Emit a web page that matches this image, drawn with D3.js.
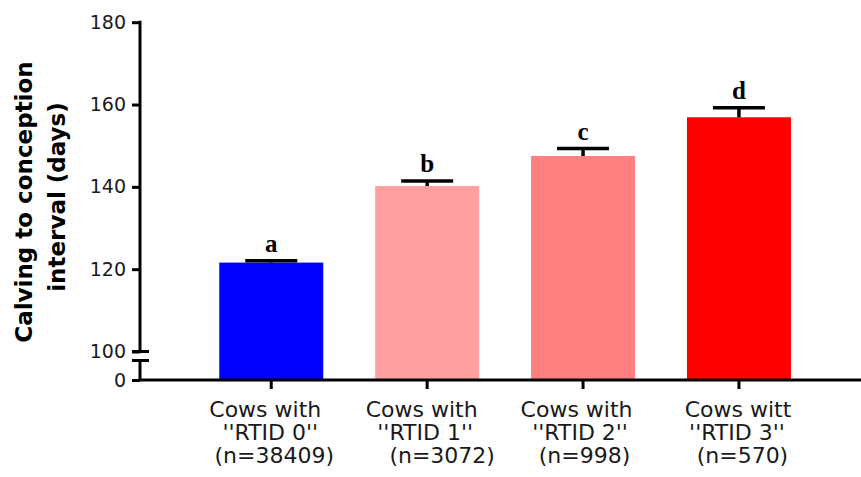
<!DOCTYPE html>
<html>
<head>
<meta charset="utf-8">
<script src="https://cdn.jsdelivr.net/npm/d3@7"></script>
<style>
  html, body { margin: 0; padding: 0; background: #fff; }
  svg { display: block; }
</style>
</head>
<body>
<svg id="chart" width="861" height="477"></svg>
<script>
// Groups, means, SEM and significance letters
const categories = ["RTID 0", "RTID 1", "RTID 2", "RTID 3"];
const labelLines = [
  ["Cows with", "''RTID 0''", "(n=38409)"],
  ["Cows with", "''RTID 1''", "(n=3072)"],
  ["Cows with", "''RTID 2''", "(n=998)"],
  ["Cows witt", "''RTID 3''", "(n=570)"]
];
const means = [121.6, 140.2, 147.5, 156.9];
const sem = [0.45, 1.2, 1.8, 2.3];
const letters = ["a", "b", "c", "d"];
const upperTicks = [100, 120, 140, 160, 180];
const lowerTicks = [0];
const barColors = ["#0000ff", "#ffa0a0", "#ff8080", "#ff0000"];

// Layout
const axisX = 140;
const axisRight = 861;
const ink = "#1a1a1a";
// horizontal nudges for each line of the category labels
const lineNudge = [
  [-6, -1, 3],
  [-5.5, -2, 15],
  [-6.5, -3, 1.5],
  [-1, -2, 3.5]
];

const svg = d3.select("#chart");

// broken y axis: upper segment 100-180, lower segment holding 0
const yHigh = d3.scaleLinear().domain([100, 180]).range([351.5, 22.2]);
const yLow = d3.scaleLinear().domain([0, 100]).range([380, 360.5]);

const x = d3.scaleBand()
  .domain(categories)
  .range([193.3, 816.9])
  .paddingInner(0.333)
  .paddingOuter(0.1665);

const data = categories.map((c, i) => ({
  cat: c, mean: means[i], sem: sem[i], letter: letters[i],
  color: barColors[i], lines: labelLines[i], nudge: lineNudge[i]
}));
const cx = d => x(d.cat) + x.bandwidth() / 2;

// bars
svg.append("g").selectAll("rect")
  .data(data)
  .join("rect")
  .attr("x", d => x(d.cat))
  .attr("width", x.bandwidth())
  .attr("y", d => yHigh(d.mean))
  .attr("height", d => yLow(0) - yHigh(d.mean))
  .attr("fill", d => d.color);

// error bars (upper only)
const eb = svg.append("g").attr("stroke", "#000").attr("stroke-width", 3.5);
eb.selectAll("line.stem")
  .data(data)
  .join("line")
  .attr("class", "stem")
  .attr("x1", cx).attr("x2", cx)
  .attr("y1", d => yHigh(d.mean))
  .attr("y2", d => yHigh(d.mean + d.sem));
eb.selectAll("line.cap")
  .data(data)
  .join("line")
  .attr("class", "cap")
  .attr("x1", d => cx(d) - 26)
  .attr("x2", d => cx(d) + 26)
  .attr("y1", d => yHigh(d.mean + d.sem))
  .attr("y2", d => yHigh(d.mean + d.sem));

// significance letters
svg.append("g").selectAll("text")
  .data(data)
  .join("text")
  .attr("x", cx)
  .attr("y", d => yHigh(d.mean + d.sem) - 9)
  .attr("text-anchor", "middle")
  .attr("font-family", "'Liberation Serif', serif")
  .attr("font-weight", "bold")
  .attr("font-size", 25)
  .attr("fill", "#000")
  .text(d => d.letter);

// y axis: tick marks and labels
function styleAxis(g) {
  g.select(".domain").remove();
  g.selectAll(".tick line").attr("stroke", "#000").attr("stroke-width", 3);
  g.selectAll(".tick text")
    .attr("font-family", "'DejaVu Sans', sans-serif")
    .attr("font-size", 19)
    .attr("fill", ink);
}
svg.append("g")
  .attr("transform", `translate(${axisX},0)`)
  .call(d3.axisLeft(yHigh).tickValues(upperTicks).tickSize(8).tickPadding(6))
  .call(styleAxis);
svg.append("g")
  .attr("transform", `translate(${axisX},0)`)
  .call(d3.axisLeft(yLow).tickValues(lowerTicks).tickSize(8).tickPadding(6))
  .call(styleAxis);

// y axis spine with break
const spine = svg.append("g").attr("stroke", "#000").attr("stroke-width", 3).attr("fill", "none");
spine.append("line")
  .attr("x1", axisX).attr("x2", axisX)
  .attr("y1", yHigh(180) - 1.5).attr("y2", yHigh(100));
spine.append("line")
  .attr("x1", axisX).attr("x2", axisX)
  .attr("y1", yLow(100)).attr("y2", yLow(0));
// break marks
[yHigh(100), yLow(100)].forEach(yy => {
  spine.append("line")
    .attr("x1", axisX - 8).attr("x2", axisX + 9)
    .attr("y1", yy).attr("y2", yy);
});

// x axis
svg.append("line")
  .attr("x1", axisX - 1.5).attr("x2", axisRight)
  .attr("y1", yLow(0)).attr("y2", yLow(0))
  .attr("stroke", "#000").attr("stroke-width", 3);
svg.append("g").selectAll("line")
  .data(data)
  .join("line")
  .attr("x1", cx).attr("x2", cx)
  .attr("y1", yLow(0))
  .attr("y2", yLow(0) + 9)
  .attr("stroke", "#000").attr("stroke-width", 3);

// category labels
const lab = svg.append("g")
  .attr("font-family", "'DejaVu Sans', sans-serif")
  .attr("font-size", 22)
  .attr("fill", ink)
  .attr("text-anchor", "middle");
data.forEach(d => {
  d.lines.forEach((t, j) => {
    lab.append("text")
      .attr("x", cx(d) + d.nudge[j])
      .attr("y", 416.7 + j * 23.3)
      .text(t);
  });
});

// y axis title
const title = svg.append("g")
  .attr("font-family", "'DejaVu Sans', sans-serif")
  .attr("font-weight", "bold")
  .attr("font-size", 23)
  .attr("fill", "#000")
  .attr("text-anchor", "middle");
title.append("text")
  .attr("transform", "translate(32,202) rotate(-90)")
  .text("Calving to conception");
title.append("text")
  .attr("transform", "translate(65,197) rotate(-90)")
  .text("interval (days)");
</script>
</body>
</html>
